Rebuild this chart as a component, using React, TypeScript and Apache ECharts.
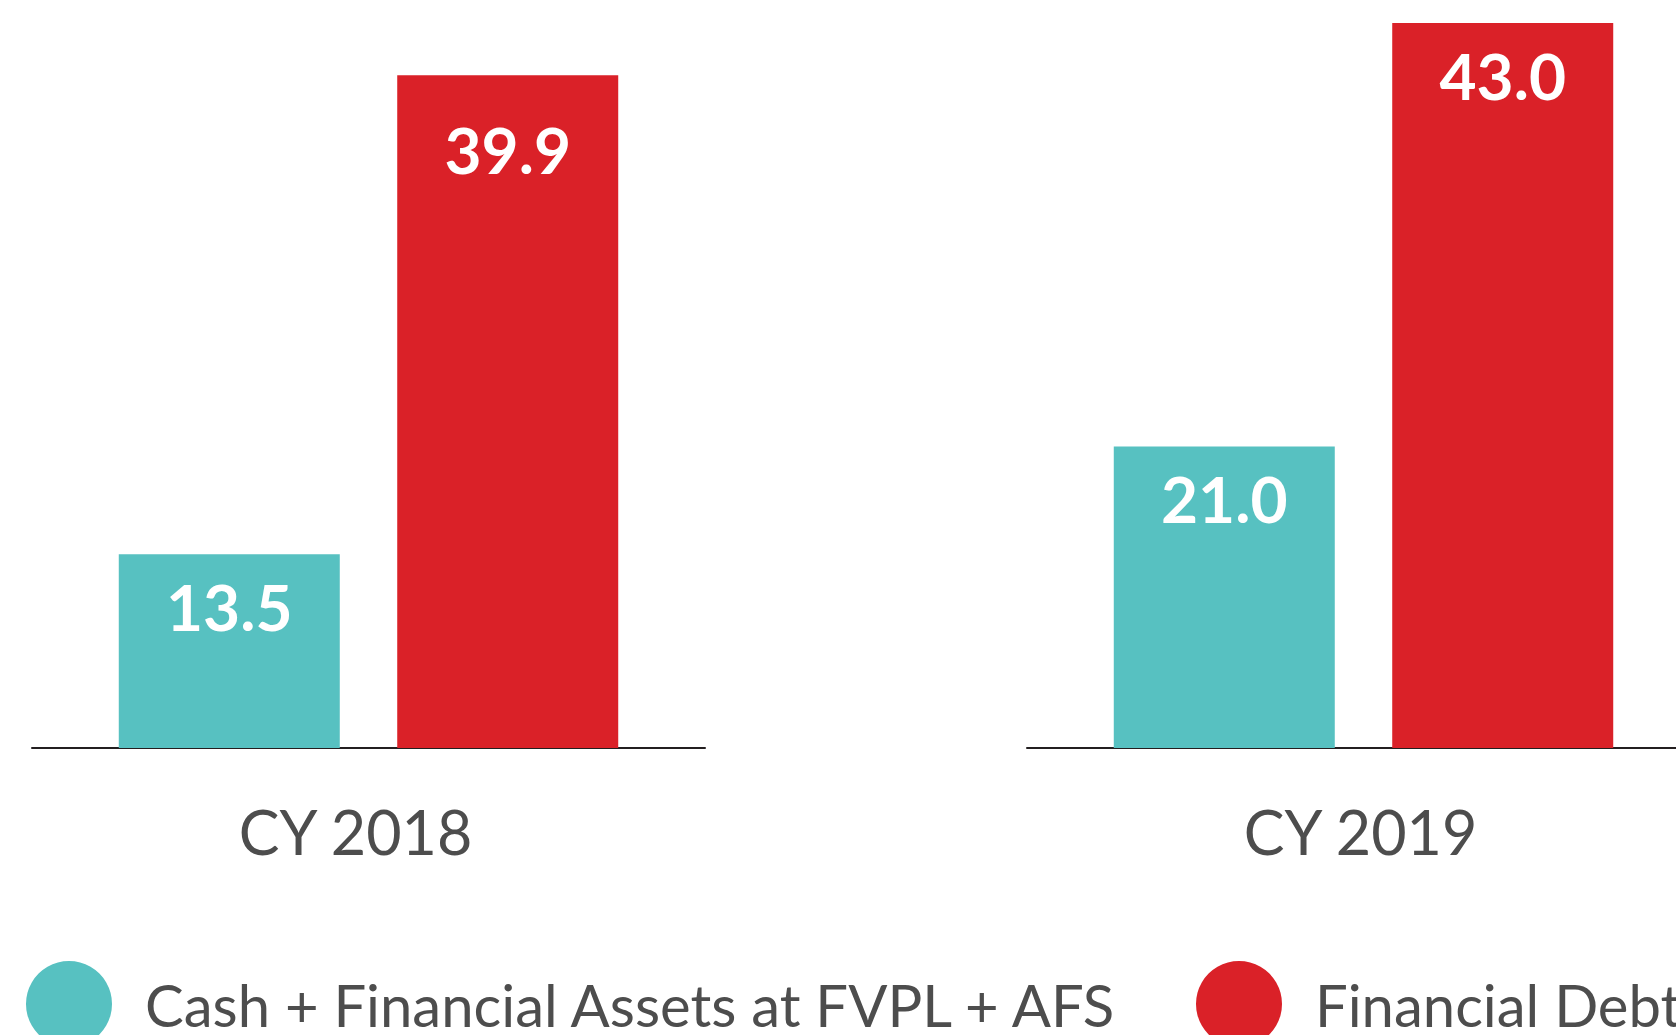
import React, { useEffect, useRef } from "react";
import * as echarts from "echarts";

const categories = ["CY 2018", "CY 2019"];
const cashValues = [13.5, 21.0];
const debtValues = [39.9, 43.0];
const seriesNames = ["Cash + Financial Assets at FVPL + AFS", "Financial Debt"];

const TEAL = "#57C1C1";
const RED = "#DA2128";
const GRAY = "#4D4D4D";
const FONT = "Lato";

export default function App() {
  const ref = useRef<HTMLDivElement>(null);
  useEffect(() => {
    if (!ref.current) return;
    const chart = echarts.init(ref.current, undefined, { renderer: "svg" });
    const gridTop = 23;
    const gridBottom = 287;
    const grids = [
      { left: 32, width: 673, top: gridTop, bottom: gridBottom },
      { left: 1027, width: 673, top: gridTop, bottom: gridBottom },
    ];
    const xAxes = categories.map((c, i) => ({
      type: "category",
      gridIndex: i,
      data: [c],
      axisLine: { lineStyle: { color: "#231F20", width: 2 } },
      axisTick: { show: false },
      axisLabel: {
        color: GRAY,
        fontFamily: FONT,
        fontSize: 61,
        margin: 53,
        padding: i === 0 ? [0, 26, 0, 0] : [0, 6, 0, 0],
      },
    }));
    const yAxes: any[] = [];
    categories.forEach((_, i) => {
      yAxes.push({ type: "value", gridIndex: i, min: 0, max: 50.5, show: false, splitLine: { show: false } });
      yAxes.push({ type: "value", gridIndex: i, min: 0, max: 43, show: false, splitLine: { show: false } });
    });
    const makeLabel = (distance: number) => ({
      show: true,
      position: "insideTop",
      distance,
      color: "#fff",
      fontFamily: FONT,
      fontWeight: "bold",
      fontSize: 64,
      formatter: (p: any) => Number(p.value).toFixed(1),
    });
    const series: any[] = [];
    categories.forEach((_, i) => {
      series.push({
        name: seriesNames[0],
        type: "bar",
        xAxisIndex: i,
        yAxisIndex: i * 2,
        data: [cashValues[i]],
        barWidth: 221,
        barGap: "26%",
        itemStyle: { color: TEAL },
        label: makeLabel(20),
      });
      series.push({
        name: seriesNames[1],
        type: "bar",
        xAxisIndex: i,
        yAxisIndex: i * 2 + 1,
        data: [debtValues[i]],
        barWidth: 221,
        barGap: "26%",
        itemStyle: { color: RED },
        label: makeLabel(i === 0 ? 42 : 20),
      });
    });
    const legendBase = {
      orient: "horizontal",
      icon: "circle",
      itemWidth: 86,
      itemHeight: 86,
      top: 956,
      textStyle: {
        color: GRAY,
        fontFamily: FONT,
        fontSize: 58,
        lineHeight: 40,
        padding: [0, 0, 22, 28],
      },
    };
    chart.setOption({
      animation: false,
      backgroundColor: "#ffffff",
      grid: grids,
      xAxis: xAxes,
      yAxis: yAxes,
      legend: [
        { ...legendBase, left: 21, data: [seriesNames[0]] },
        { ...legendBase, left: 1191, data: [seriesNames[1]] },
      ],
      series,
    });
    return () => chart.dispose();
  }, []);
  return (
    <div
      style={{ position: "fixed", left: 0, top: 0, width: 1676, height: 1035, overflow: "hidden", background: "#fff" }}
    >
      <div ref={ref} style={{ width: 1700, height: 1035 }} />
    </div>
  );
}
